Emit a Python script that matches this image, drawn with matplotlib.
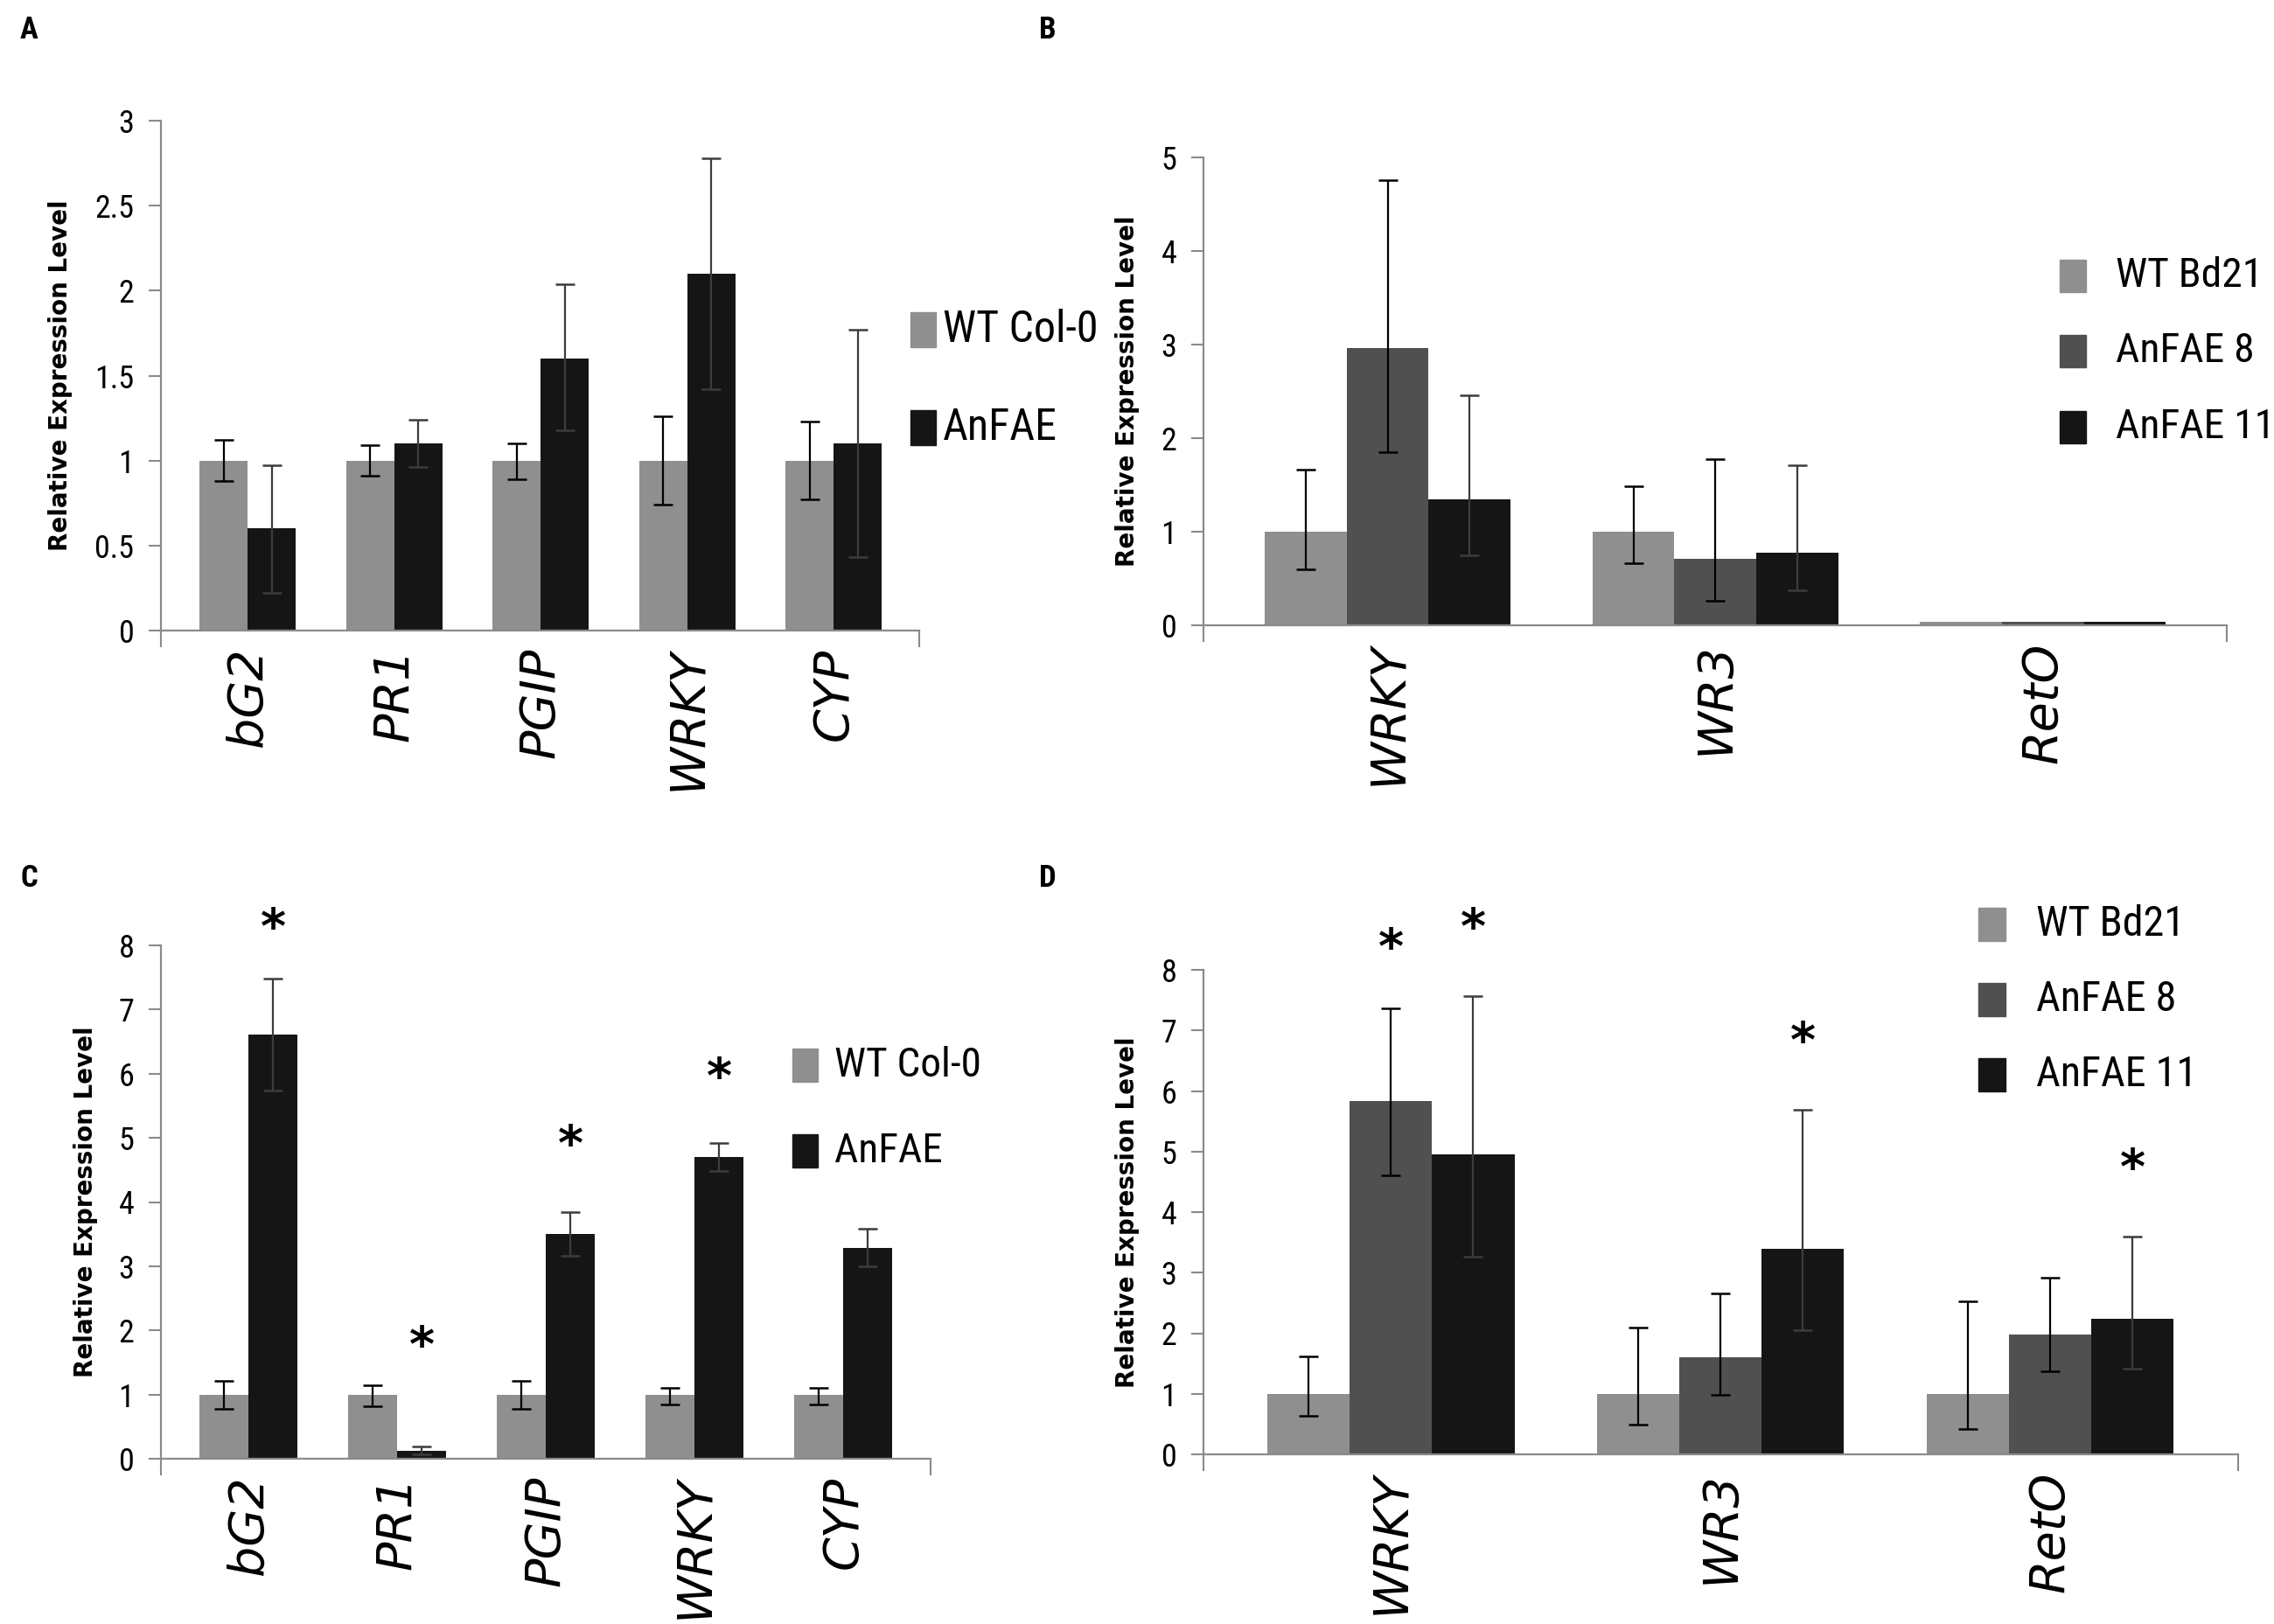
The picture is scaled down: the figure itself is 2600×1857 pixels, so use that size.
import numpy as np
import matplotlib
matplotlib.use("Agg")
import matplotlib.pyplot as plt
from matplotlib import font_manager
from matplotlib.patches import Rectangle
from matplotlib.ticker import FuncFormatter

# --- data ---
genes_arab = ['bG2', 'PR1', 'PGIP', 'WRKY', 'CYP']
genes_brachy = ['WRKY', 'WR3', 'RetO']

labels_arab = ['WT Col-0', 'AnFAE']
labels_brachy = ['WT Bd21', 'AnFAE 8', 'AnFAE 11']

# panel A
a_wt = [1.0, 1.0, 1.0, 1.0, 1.0]
a_wt_lo = [0.12, 0.09, 0.11, 0.26, 0.23]
a_wt_hi = [0.12, 0.09, 0.10, 0.26, 0.23]
a_anfae = [0.60, 1.10, 1.60, 2.10, 1.10]
a_anfae_lo = [0.38, 0.14, 0.42, 0.68, 0.67]
a_anfae_hi = [0.37, 0.14, 0.44, 0.68, 0.67]

# panel B
b_wt = [1.0, 1.0, 0.04]
b_wt_lo = [0.40, 0.34, 0.0]
b_wt_hi = [0.66, 0.49, 0.0]
b_a8 = [2.96, 0.71, 0.04]
b_a8_lo = [1.11, 0.45, 0.0]
b_a8_hi = [1.80, 1.07, 0.0]
b_a11 = [1.35, 0.78, 0.04]
b_a11_lo = [0.60, 0.41, 0.0]
b_a11_hi = [1.11, 0.93, 0.0]

# panel C
c_wt = [1.0, 1.0, 1.0, 1.0, 1.0]
c_wt_lo = [0.22, 0.18, 0.22, 0.15, 0.15]
c_wt_hi = [0.21, 0.15, 0.21, 0.11, 0.11]
c_anfae = [6.61, 0.12, 3.50, 4.70, 3.28]
c_anfae_lo = [0.87, 0.05, 0.34, 0.21, 0.28]
c_anfae_hi = [0.87, 0.07, 0.35, 0.22, 0.31]
c_anfae_star = [8.25, 1.73, 4.86, 5.92, None]

# panel D
d_wt = [1.0, 1.0, 1.0]
d_wt_lo = [0.36, 0.51, 0.58]
d_wt_hi = [0.62, 1.09, 1.52]
d_a8 = [5.83, 1.61, 1.98]
d_a8_lo = [1.23, 0.63, 0.61]
d_a8_hi = [1.54, 1.05, 0.94]
d_a11 = [4.95, 3.39, 2.24]
d_a11_lo = [1.68, 1.34, 0.83]
d_a11_hi = [2.61, 2.30, 1.35]
d_a8_star = [8.33, None, None]
d_a11_star = [8.67, 6.79, 4.70]

# --- styling ---
W, H = 2600, 1857
GRAY = '#8f8f8f'
DARK = '#505050'
BLACK = '#151515'
AXIS = '#8a8a8a'

# pick a narrow face if one is around (the original uses Calibri)
installed = {f.name for f in font_manager.fontManager.ttflist}
NARROW = ['Lato', 'DejaVu Sans']
for cand in ['Liberation Sans Narrow', 'Roboto Condensed', 'Open Sans Condensed']:
    if cand in installed:
        NARROW = [cand, 'DejaVu Sans']
        break

fig = plt.figure(figsize=(W / 100, H / 100), dpi=100)


def px_axes(left, top, right, bottom):
    return [left / W, 1 - bottom / H, (right - left) / W, (bottom - top) / H]


def fx(x, y):
    return x / W, 1 - y / H


def draw_panel(ax, genes, series, colors, ecolors, ymax, ystep, xlim, width,
               ylabel_x, stars=None):
    x = np.arange(len(genes))
    n = len(series)
    for i, (vals, lo, hi) in enumerate(series):
        pos = x + (i - (n - 1) / 2) * width
        vals = np.array(vals)
        ax.bar(pos, vals, width, color=colors[i], zorder=2)
        lo = np.array(lo)
        hi = np.array(hi)
        keep = (lo > 0) | (hi > 0)
        ax.errorbar(pos[keep], vals[keep], yerr=[lo[keep], hi[keep]], fmt='none',
                    ecolor=ecolors[i], elinewidth=1.6, capsize=8, capthick=1.8,
                    zorder=3)
        if stars is not None and stars[i] is not None:
            for p, s in zip(pos, stars[i]):
                if s is not None:
                    ax.text(p, s, '*', ha='center', va='center', fontsize=40,
                            fontweight='bold', family='DejaVu Sans')
    ax.set_xlim(*xlim)
    ax.set_ylim(0, ymax)
    ax.set_yticks(np.arange(0, ymax + ystep / 2, ystep))
    ax.yaxis.set_major_formatter(FuncFormatter(lambda v, p: '{:g}'.format(v)))
    ax.set_xticks(x)
    ax.set_xticklabels(genes, rotation=90, fontstyle='italic',
                       family='DejaVu Sans', fontsize=40)
    ax.set_xticks(list(xlim), minor=True)
    for lab in ax.get_yticklabels():
        lab.set_family(NARROW)
        lab.set_fontsize(26)
    ax.tick_params(axis='y', length=10, width=1.5, color=AXIS, pad=12)
    ax.tick_params(axis='x', which='major', length=0, pad=14)
    ax.tick_params(axis='x', which='minor', length=14, width=1.5, color=AXIS)
    for side in ['top', 'right']:
        ax.spines[side].set_visible(False)
    for side in ['left', 'bottom']:
        ax.spines[side].set_color(AXIS)
        ax.spines[side].set_linewidth(1.6)
    ax.set_ylabel('Relative Expression Level', fontsize=20, fontweight='bold',
                  family='DejaVu Sans')
    ax.yaxis.set_label_coords(ylabel_x, 0.5)


legend_texts = []


def draw_legend(labels, colors, sq_x, sq_w, sq_h, text_x, y0, step, target_w):
    texts = []
    for i, (lab, col) in enumerate(zip(labels, colors)):
        yc = y0 + i * step
        fig.patches.append(Rectangle(fx(sq_x, yc + sq_h / 2), sq_w / W, sq_h / H,
                                     transform=fig.transFigure, color=col))
        texts.append(fig.text(*fx(text_x, yc), lab, ha='left', va='center',
                              fontsize=35, family=NARROW))
    # first entry should be about target_w pixels wide, as in the original
    legend_texts.append((texts, target_w))


# panel A
axA = fig.add_axes(px_axes(184, 138, 1051, 721))
draw_panel(axA, genes_arab,
           [(a_wt, a_wt_lo, a_wt_hi), (a_anfae, a_anfae_lo, a_anfae_hi)],
           [GRAY, BLACK], ['black', '#3c3c3c'], 3, 0.5, (-0.591, 4.582), 0.328,
           -0.1165)
draw_legend(labels_arab, [GRAY, BLACK], 1041, 29, 39, 1078, 377, 112, 178)

# panel B
axB = fig.add_axes(px_axes(1376, 180, 2546, 715))
draw_panel(axB, genes_brachy,
           [(b_wt, b_wt_lo, b_wt_hi), (b_a8, b_a8_lo, b_a8_hi),
            (b_a11, b_a11_lo, b_a11_hi)],
           [GRAY, DARK, BLACK], ['black', 'black', '#3c3c3c'], 5, 1,
           (-0.562, 2.561), 0.25, -0.0624)
draw_legend(labels_brachy, [GRAY, DARK, BLACK], 2355, 30, 37, 2419, 315, 86.5, 168)

# panel C
axC = fig.add_axes(px_axes(184, 1081, 1064, 1668))
draw_panel(axC, genes_arab,
           [(c_wt, c_wt_lo, c_wt_hi), (c_anfae, c_anfae_lo, c_anfae_hi)],
           [GRAY, BLACK], ['black', '#3c3c3c'], 8, 1, (-0.588, 4.588), 0.33,
           -0.0818, stars=[None, c_anfae_star])
draw_legend(labels_arab, [GRAY, BLACK], 906, 29, 38, 954, 1218, 98, 168)

# panel D
axD = fig.add_axes(px_axes(1376, 1109, 2559, 1663))
draw_panel(axD, genes_brachy,
           [(d_wt, d_wt_lo, d_wt_hi), (d_a8, d_a8_lo, d_a8_hi),
            (d_a11, d_a11_lo, d_a11_hi)],
           [GRAY, DARK, BLACK], ['black', 'black', '#3c3c3c'], 8, 1,
           (-0.568, 2.57), 0.25, -0.0617, stars=[None, d_a8_star, d_a11_star])
draw_legend(labels_brachy, [GRAY, DARK, BLACK], 2262, 31, 38, 2328, 1057, 86, 170)

# panel letters
for letter, (x, y) in zip('ABCD', [(33, 34), (1198, 34), (33, 1004), (1198, 1004)]):
    fig.text(*fx(x, y), letter, ha='center', va='center', fontsize=25,
             fontweight='bold', family=NARROW)

# shrink legend labels so they take the same width as in the original
fig.canvas.draw()
renderer = fig.canvas.get_renderer()
for texts, target_w in legend_texts:
    w_now = texts[0].get_window_extent(renderer).width
    size = min(36, 35 * target_w / w_now)
    for t in texts:
        t.set_fontsize(size)

fig.savefig('out.png', dpi=100, facecolor='white')
